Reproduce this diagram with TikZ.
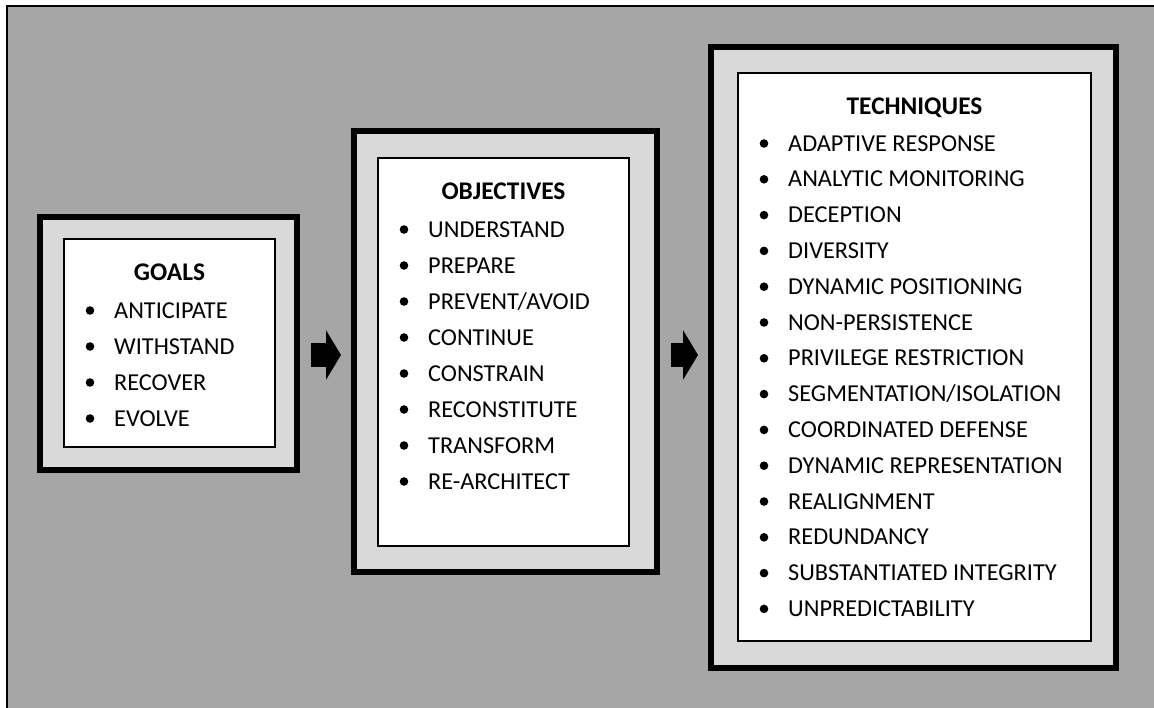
\documentclass[tikz,border=0pt]{standalone}
\usepackage{fontspec}
\setmainfont{Carlito}
\usepackage{tikz}
\usetikzlibrary{arrows.meta, positioning, calc}
\usepackage{xcolor}
\definecolor{bggray}{HTML}{A6A6A6}
\definecolor{bandgray}{HTML}{D9D9D9}

\begin{document}
\begin{tikzpicture}[x=1pt, y=-1pt,
    outerbox/.style={draw=black, line width=6pt, fill=bandgray, inner sep=0pt, outer sep=0pt},
    innerbox/.style={draw=black, line width=2pt, fill=white, inner sep=0pt, outer sep=0pt},
    titletext/.style={anchor=base, inner sep=0pt, font=\fontsize{25.4}{30}\selectfont\bfseries},
    itemtext/.style={anchor=base west, inner sep=0pt, font=\fontsize{24.3}{29}\selectfont},
    flowarrow/.style={line width=24pt, -{Triangle[length=15pt, width=49pt]}, shorten <=14pt, shorten >=13pt}]
      \useasboundingbox (0, 0) rectangle (1154, 707);
      \draw[line width=2pt, fill=bggray] (7, 6) rectangle (1170, 720);

      % the three panels
      \node[outerbox, minimum width=257pt, minimum height=253pt] (goalsframe) at (168.5, 343.5) {};
      \node[innerbox, minimum width=211pt, minimum height=208pt] (goals) at (169.5, 343) {};

      \node[outerbox, minimum width=303pt, minimum height=441pt] (objframe) at (505.5, 351.5) {};
      \node[innerbox, minimum width=251pt, minimum height=388pt] (objectives) at (503.5, 352) {};

      \node[outerbox, minimum width=405pt, minimum height=621pt] (techframe) at (913.5, 357.5) {};
      \node[innerbox, minimum width=353pt, minimum height=568pt] (techniques) at (914.5, 357) {};

      % titles
      \node[titletext] (goalstitle) at ([shift={(0, 41)}]goals.north) {GOALS};
      \node[titletext] (objtitle) at ([shift={(0, 41)}]objectives.north) {OBJECTIVES};
      \node[titletext] (techtitle) at ([shift={(0, 41)}]techniques.north) {TECHNIQUES};

      % bullet lists
      \foreach \t [count=\i from 0] in {ANTICIPATE, WITHSTAND, RECOVER, EVOLVE} {
        \fill ([shift={(26, 71.5+36*\i)}]goals.north west) circle (4.3);
        \node[itemtext] at ([shift={(50, 79+36*\i)}]goals.north west) {\t};
      }
      \foreach \t [count=\i from 0] in {UNDERSTAND, PREPARE, PREVENT/AVOID, CONTINUE, CONSTRAIN, RECONSTITUTE, TRANSFORM, RE-ARCHITECT} {
        \fill ([shift={(26, 71.5+36*\i)}]objectives.north west) circle (4.3);
        \node[itemtext] at ([shift={(50, 79+36*\i)}]objectives.north west) {\t};
      }
      \foreach \t [count=\i from 0] in {ADAPTIVE RESPONSE, ANALYTIC MONITORING, DECEPTION, DIVERSITY, DYNAMIC POSITIONING, NON-PERSISTENCE, PRIVILEGE RESTRICTION, SEGMENTATION/ISOLATION, COORDINATED DEFENSE, DYNAMIC REPRESENTATION, REALIGNMENT, REDUNDANCY, SUBSTANTIATED INTEGRITY, UNPREDICTABILITY} {
        \fill ([shift={(26, 70.5+35.8*\i)}]techniques.north west) circle (4.3);
        \node[itemtext] at ([shift={(50, 78+35.8*\i)}]techniques.north west) {\t};
      }

      % arrows between panels
      \draw[flowarrow] (goalsframe.east |- 0, 355) -- (objframe.west |- 0, 355);
      \draw[flowarrow] (objframe.east |- 0, 355) -- (techframe.west |- 0, 355);
\end{tikzpicture}
\end{document}
